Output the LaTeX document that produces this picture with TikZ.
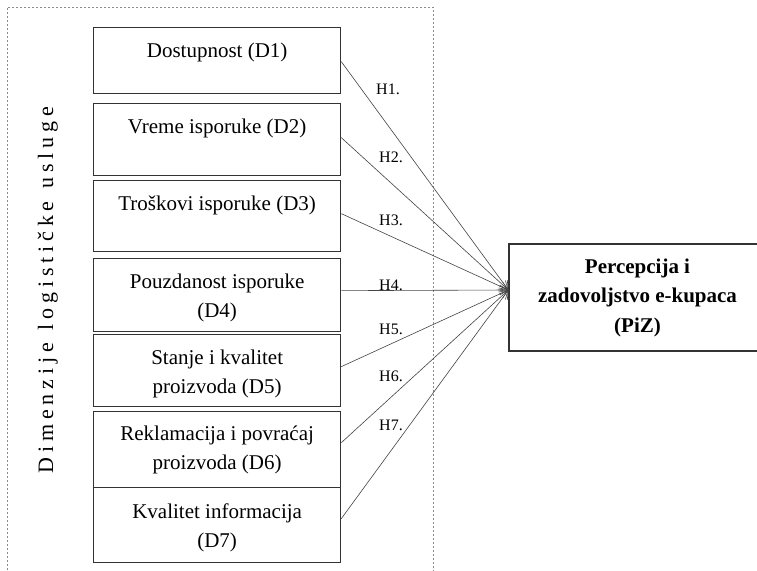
\documentclass[tikz,border=0pt]{standalone}
\usepackage{fontspec}
\setmainfont{Liberation Serif}
\usetikzlibrary{arrows.meta}
\definecolor{bord}{HTML}{333333}
\definecolor{lineclr}{HTML}{444444}
\definecolor{frameclr}{HTML}{8A8A8A}
\newcommand\lsp{\hspace{4.8pt}}
\newcommand\wsp{\hspace{13pt}}
\begin{document}
\begin{tikzpicture}[x=1pt,y=-1pt,
  box/.style={draw=bord, line width=1.3pt, minimum width=247pt, anchor=north west, inner sep=0pt},
  btext/.style={anchor=north, inner sep=0pt, align=center, font=\fontsize{21}{29}\selectfont},
  hyp/.style={font=\fontsize{16}{16}\selectfont, inner sep=0pt},
  conn/.style={draw=lineclr, line width=0.6pt, -{Straight Barb[length=8pt,width=10pt]}},
  frame/.style={draw=frameclr, line width=0.8pt, dash pattern=on 2pt off 2pt}]
\useasboundingbox (0,0) rectangle (757,570);
\clip (0,0) rectangle (757,570);
\fill[white] (0,0) rectangle (757,570);
% dashed frame
\coordinate (fbl) at (7,590);
\coordinate (ftl) at (7,7);
\coordinate (ftr) at (433,7);
\coordinate (fbr) at (433,590);
\draw[frame] (fbl) -- (ftl) -- (ftr) -- (fbr);
% vertical label
\node[rotate=90, anchor=base, inner sep=0pt, font=\fontsize{22}{22}\selectfont] (dim) at (53,290)
  {D\lsp i\lsp m\lsp e\lsp n\lsp z\lsp i\lsp j\lsp e\wsp l\lsp o\lsp g\lsp i\lsp s\lsp t\lsp i\lsp č\lsp k\lsp e\wsp u\lsp s\lsp l\lsp u\lsp g\lsp e};
% boxes
\node[box, minimum height=66pt] (d1) at (93,27) {};
\node[box, minimum height=72pt] (d2) at (93,103) {};
\node[box, minimum height=71pt] (d3) at (93,180) {};
\node[box, minimum height=73pt] (d4) at (93,258) {};
\node[box, minimum height=72pt] (d5) at (93,334) {};
\node[box, minimum height=76pt] (d6) at (93,411) {};
\node[box, minimum height=75pt] (d7) at (93,487) {};
\node[btext] (t1) at ([yshift=-16pt]d1.north) {Dostupnost (D1)};
\node[btext] (t2) at ([yshift=-16pt]d2.north) {Vreme isporuke (D2)};
\node[btext] (t3) at ([yshift=-16pt]d3.north) {Troškovi isporuke (D3)};
\node[btext] (t4) at ([yshift=-16pt]d4.north) {Pouzdanost isporuke\\(D4)};
\node[btext] (t5) at ([yshift=-16pt]d5.north) {Stanje i kvalitet\\proizvoda (D5)};
\node[btext] (t6) at ([yshift=-15pt]d6.north) {Reklamacija i povraćaj\\proizvoda (D6)};
\node[btext] (t7) at ([yshift=-17pt]d7.north) {Kvalitet informacija\\(D7)};
% target box
\node[draw=bord, line width=1.3pt, minimum width=257pt, minimum height=107pt, inner sep=0pt,
  align=center, font=\bfseries\fontsize{21}{29.5}\selectfont] (piz) at (637.5,297.5)
  {Percepcija i\\zadovoljstvo e-kupaca\\(PiZ)};
\coordinate (tip) at ([yshift=7.5pt]piz.west);
% connectors
\draw[conn] ([yshift=-1pt]d1.east) -- (tip);
\draw[conn] ([yshift=2pt]d2.east) -- (tip);
\draw[conn] ([yshift=2.5pt]d3.east) -- (tip);
\draw[conn] ([yshift=4.5pt]d4.east) -- (tip);
\draw[conn] ([yshift=4pt]d5.east) -- (tip);
\draw[conn] ([yshift=7pt]d6.east) -- (tip);
\draw[conn] ([yshift=6.5pt]d7.east) -- (tip);
% hypothesis labels
\node[hyp] (h1) at (388,89) {H1.};
\node[hyp] (h2) at (391,157.5) {H2.};
\node[hyp] (h3) at (391,220) {H3.};
\node[hyp] (h4) at (391,285) {H4.};
\node[hyp] (h5) at (391,329) {H5.};
\node[hyp] (h6) at (391,376.5) {H6.};
\node[hyp] (h7) at (391,425) {H7.};
\end{tikzpicture}
\end{document}
